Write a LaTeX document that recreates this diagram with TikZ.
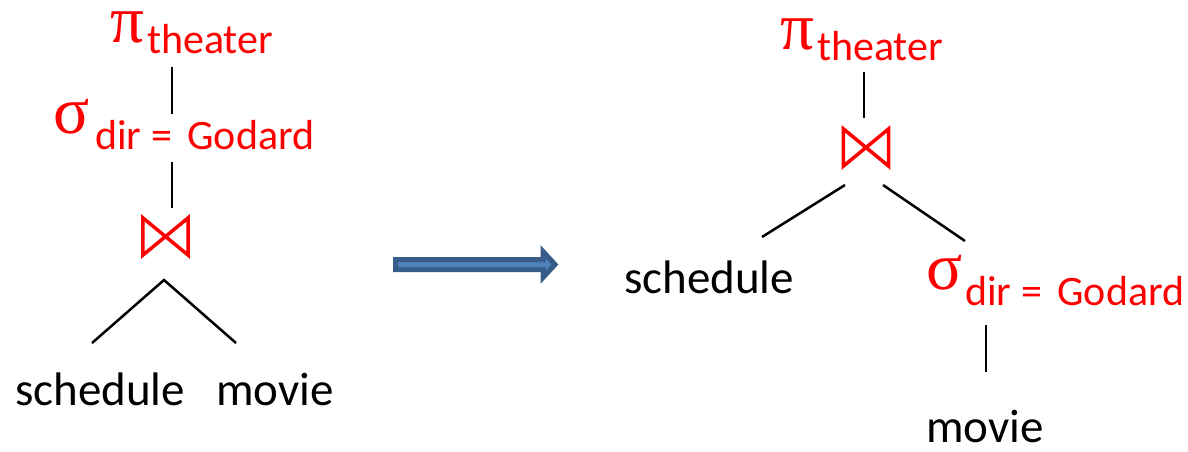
\documentclass[tikz,border=0pt]{standalone}
\usepackage{fontspec}
\setmainfont{Carlito}
\newfontfamily\grk{Liberation Serif}
\newcommand{\opsym}[2]{\makebox[#1][l]{\grk\fontsize{67}{72}\selectfont #2}}
\newcommand{\opsub}[2]{\raisebox{-#1}{\fontsize{42}{50}\selectfont #2}}
\begin{document}
\begin{tikzpicture}[x=1pt,y=-1pt,
  lbl/.style={inner sep=0pt,anchor=base west,font=\fontsize{47}{56}\selectfont},
  opnode/.style={inner sep=0pt,anchor=base west,text=red,text height=32pt,text depth=16pt},
  joinbox/.style={inner sep=0pt,minimum width=45pt,minimum height=37pt},
  bowtie/.style={draw=red,line width=3.5pt,line join=miter},
  edge/.style={draw=black,line width=2.5pt},
  bigarrow/.style={fill={rgb,255:red,79;green,129;blue,189},draw={rgb,255:red,56;green,93;blue,138},line width=5pt,line join=miter}]
\useasboundingbox (0,0) rectangle (1188,452);
% ---------- left tree ----------
\node[opnode] (lpi) at (110,43) {\opsym{37pt}{π}\opsub{10pt}{theater}};
\node[opnode] (lsig) at (53,133) {\opsym{42pt}{σ}\opsub{16pt}{dir = \hspace{6pt}Godard}};
\node[joinbox] (lj) at (165.5,236.5) {};
\draw[bowtie] (lj.north west) -- (lj.south east) -- (lj.north east) -- (lj.south west) -- cycle;
\node[lbl] (lsch) at (15,405) {schedule};
\node[lbl] (lmov) at (216,405) {movie};
\coordinate (l1a) at (172,67);
\coordinate (l1b) at (172,114);
\coordinate (l2a) at (172,162);
\coordinate (l2b) at (172,208);
\coordinate (lapex) at (164,280);
\coordinate (lle) at (92,343);
\coordinate (lre) at (236,343);
\draw[edge] (l1a) -- (l1b);
\draw[edge] (l2a) -- (l2b);
\draw[edge] (lle) -- (lapex) -- (lre);
% ---------- arrow ----------
\coordinate (at) at (555,264.5);
\draw[bigarrow] (395.5,259.5) -- (543,259.5) -- (543,251.5) -- (at) -- (543,277.5) -- (543,269.5) -- (395.5,269.5) -- cycle;
% ---------- right tree ----------
\node[opnode] (rpi) at (780,50) {\opsym{37pt}{π}\opsub{10pt}{theater}};
\node[joinbox] (rj) at (866,147.5) {};
\draw[bowtie] (rj.north west) -- (rj.south east) -- (rj.north east) -- (rj.south west) -- cycle;
\node[lbl] (rsch) at (624,293) {schedule};
\node[opnode] (rsig) at (926,289) {\opsym{39pt}{σ}\opsub{16pt}{dir = \hspace{6pt}Godard}};
\node[lbl] (rmov) at (926,442) {movie};
\coordinate (r1a) at (864,72);
\coordinate (r1b) at (864,118);
\coordinate (rla) at (845,185);
\coordinate (rlb) at (762,237);
\coordinate (rra) at (883,185);
\coordinate (rrb) at (965,241);
\coordinate (r2a) at (986,325);
\coordinate (r2b) at (986,372);
\draw[edge] (r1a) -- (r1b);
\draw[edge] (rla) -- (rlb);
\draw[edge] (rra) -- (rrb);
\draw[edge] (r2a) -- (r2b);
\end{tikzpicture}
\end{document}
